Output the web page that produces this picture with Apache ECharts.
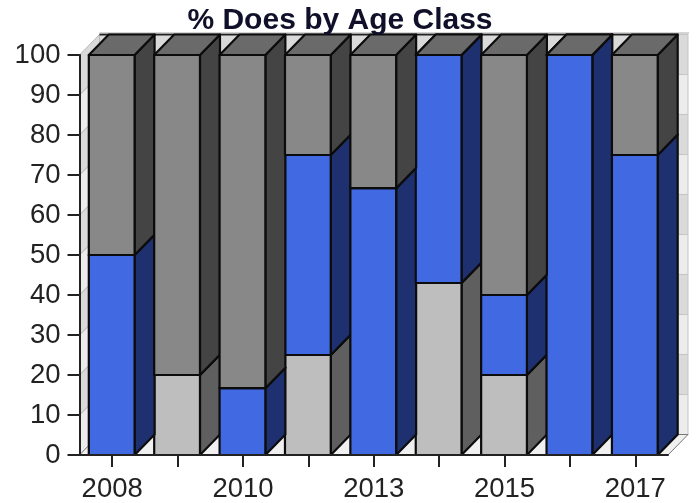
<!DOCTYPE html>
<html>
<head>
<meta charset="utf-8">
<script src="https://cdn.jsdelivr.net/npm/echarts@6/dist/echarts.min.js"></script>
<style>
html, body { margin: 0; padding: 0; background: #fff; }
#mycharts { width: 696px; height: 503px; }
#mycharts canvas { filter: blur(0.4px); }
</style>
</head>
<body>
<div id="mycharts"></div>
<script>
const years = ["2008", "2009", "2010", "2012", "2013", "2014", "2015", "2016", "2017"];
const lightValues = [0, 20, 0, 25, 0, 43, 20, 0, 0];
const blueValues = [50, 0, 16.7, 50, 66.7, 57, 20, 100, 75];
const grayValues = [50, 80, 83.3, 25, 33.3, 0, 60, 0, 25];
const yTicks = [0, 10, 20, 30, 40, 50, 60, 70, 80, 90, 100];

const depthX = 20;
const depthY = 20.5;
const edge = "#0c0c0c";
const labelFont = "Liberation Sans";

// [low, high] of every bar piece, bottom piece first
function stackRows(values, below) {
  return values.map((v, i) => {
    let low = below.reduce((sum, arr) => sum + arr[i], 0);
    return [i, low, low + v];
  });
}

function poly(points, fill, stroke, width) {
  return {
    type: "polygon",
    shape: { points: points },
    style: { fill: fill, stroke: stroke, lineWidth: width, lineJoin: "round" }
  };
}

function barPiece(colors, keepEmpty) {
  return function (params, api) {
    let low = api.value(1);
    let high = api.value(2);
    if (high === low && !keepEmpty) return { type: "group", children: [] };
    let bottom = api.coord([api.value(0), low]);
    let top = api.coord([api.value(0), high]);
    let w = api.size([1, 0])[0] * 0.7;
    let x0 = bottom[0] - w / 2 - 0.5;
    let x1 = x0 + w;
    return {
      type: "group",
      children: [
        poly([[x1, bottom[1]], [x1 + depthX, bottom[1] - depthY], [x1 + depthX, top[1] - depthY], [x1, top[1]]], colors.side, edge, 2.2),
        poly([[x0, top[1]], [x1, top[1]], [x1 + depthX, top[1] - depthY], [x0 + depthX, top[1] - depthY]], colors.top, edge, 2.2),
        poly([[x0, bottom[1]], [x1, bottom[1]], [x1, top[1]], [x0, top[1]]], colors.front, edge, 2.2)
      ]
    };
  };
}

function drawWalls(params, api) {
  let c = params.coordSys;
  let left = c.x;
  let right = c.x + c.width;
  let children = [];
  for (let i = 0; i < yTicks.length - 1; i++) {
    let y0 = api.coord([0, yTicks[i]])[1];
    let y1 = api.coord([0, yTicks[i + 1]])[1];
    let fill = i % 2 === 0 ? "#ececec" : "#dadada";
    children.push(poly([[left + depthX, y0 - depthY], [right + depthX, y0 - depthY], [right + depthX, y1 - depthY], [left + depthX, y1 - depthY]], fill, "#c4c4c4", 1));
    children.push(poly([[left, y0], [left + depthX, y0 - depthY], [left + depthX, y1 - depthY], [left, y1]], fill, "#b8b8b8", 1));
  }
  let floorY = api.coord([0, 0])[1];
  children.push(poly([[left, floorY], [right, floorY], [right + depthX, floorY - depthY], [left + depthX, floorY - depthY]], "#f0f0f0", "#777", 1));
  // top edge of the back wall, dark as far as the last bar
  let wallTop = api.coord([0, yTicks[yTicks.length - 1]])[1] - depthY;
  children.push({
    type: "line",
    shape: { x1: left + depthX, y1: wallTop, x2: right + depthX - 11, y2: wallTop },
    style: { stroke: "#222", lineWidth: 2 }
  });
  children.push({
    type: "line",
    shape: { x1: left + depthX, y1: wallTop - 1.5, x2: right + depthX + 1, y2: wallTop - 1.5 },
    style: { stroke: "#aaa", lineWidth: 1 }
  });
  return { type: "group", children: children };
}

let myCharts = echarts.init(document.getElementById("mycharts"), null, { renderer: "canvas" });

let option = {
  animation: false,
  backgroundColor: "#fff",
  title: {
    text: "% Does by Age Class",
    left: 335,
    top: 1,
    textAlign: "center",
    textStyle: { fontFamily: labelFont, fontSize: 30, fontWeight: "bold", color: "#10102a" }
  },
  grid: { left: 79.5, right: 28, top: 55, bottom: 47 },
  xAxis: {
    type: "category",
    data: years,
    z: 10,
    axisLine: { lineStyle: { color: "#222", width: 2 } },
    axisTick: { show: true, alignWithLabel: true, interval: 0, length: 12, lineStyle: { color: "#222", width: 2 } },
    axisLabel: { interval: 1, margin: 20, fontFamily: labelFont, fontSize: 27.5, color: "#222" },
    splitLine: { show: false }
  },
  yAxis: {
    type: "value",
    min: 0,
    max: 100,
    interval: 10,
    z: 10,
    axisLine: { show: true, lineStyle: { color: "#222", width: 2 } },
    axisTick: { show: true, length: 12, lineStyle: { color: "#222", width: 2 } },
    axisLabel: { margin: 19, fontFamily: labelFont, fontSize: 27.5, color: "#222" },
    splitLine: { show: false }
  },
  series: [
    { type: "custom", coordinateSystem: "cartesian2d", z: 1, silent: true, data: [[0, 0]], renderItem: drawWalls },
    {
      type: "custom", name: "light", z: 2, silent: true,
      encode: { x: 0, y: [1, 2] },
      data: stackRows(lightValues, []),
      renderItem: barPiece({ front: "#bebebe", side: "#5f5f5f", top: "#8f8f8f" }, false)
    },
    {
      type: "custom", name: "blue", z: 3, silent: true,
      encode: { x: 0, y: [1, 2] },
      data: stackRows(blueValues, [lightValues]),
      renderItem: barPiece({ front: "#4169e1", side: "#1e3070", top: "#2c4aa0" }, false)
    },
    {
      type: "custom", name: "gray", z: 4, silent: true,
      encode: { x: 0, y: [1, 2] },
      data: stackRows(grayValues, [lightValues, blueValues]),
      renderItem: barPiece({ front: "#888888", side: "#444444", top: "#6a6a6a" }, true)
    }
  ]
};

myCharts.setOption(option);
</script>
</body>
</html>
